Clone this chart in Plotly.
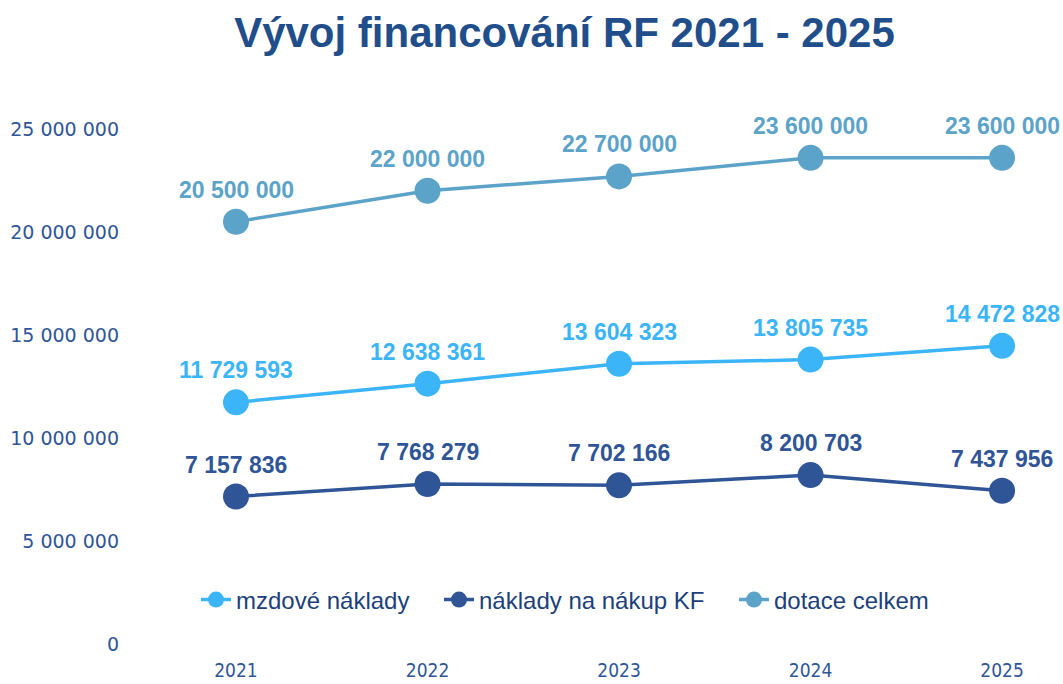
import plotly.graph_objects as go

years = ["2021", "2022", "2023", "2024", "2025"]
mzdove = [11729593, 12638361, 13604323, 13805735, 14472828]
naklady_kf = [7157836, 7768279, 7702166, 8200703, 7437956]
dotace = [20500000, 22000000, 22700000, 23600000, 23600000]

series = [
    ("mzdové náklady", mzdove, "#3BB5F7", "legend"),
    ("náklady na nákup KF", naklady_kf, "#2F5597", "legend2"),
    ("dotace celkem", dotace, "#5BA3C8", "legend3"),
]

def fmt(v):
    return f"{v:,}".replace(",", " ")

L, R, T, B = 130, 10, 129, 40
W, H = 1063, 684
pw = W - L - R
ph = H - T - B

def px_x(p):
    return (p - L) / pw

def px_y(p):
    return (H - B - p) / ph

xs = list(range(len(years)))
fig = go.Figure()
annotations = []
for name, vals, col, lg in series:
    fig.add_trace(go.Scatter(
        x=xs, y=vals, name=name, mode="lines+markers",
        line=dict(color=col, width=3.5),
        marker=dict(color=col, size=26),
        cliponaxis=False, legend=lg, showlegend=True,
    ))
    for x, v in zip(xs, vals):
        annotations.append(dict(
            x=x, y=v, xref="x", yref="y", text=fmt(v), showarrow=False,
            yshift=32, font=dict(family="Liberation Sans, Arial", size=23, color=col, weight="bold"),
        ))

legend_font = dict(family="Liberation Sans, Arial", size=24, color="#203F7A")
legend_common = dict(
    orientation="h", xanchor="left", yanchor="middle", yref="paper", xref="paper",
    font=legend_font, itemwidth=30, bgcolor="rgba(0,0,0,0)", borderwidth=0,
    y=px_y(600), visible=True,
)

fig.update_layout(
    width=W, height=H, showlegend=True,
    paper_bgcolor="white", plot_bgcolor="white",
    margin=dict(l=L, r=R, t=T, b=B, autoexpand=False),
    separators=", ",
    title=dict(
        text="<b>Vývoj financování RF 2021 - 2025</b>",
        x=0.531, xref="container", xanchor="center",
        y=1 - 32 / 684, yref="container", yanchor="middle",
        font=dict(family="Liberation Sans, Arial", size=42, color="#1F4E8B"),
    ),
    xaxis=dict(
        range=[-0.5535, 4.266], tickmode="array", tickvals=xs, ticktext=years,
        showgrid=False, zeroline=False, showline=False, ticks="", automargin=False,
        tickfont=dict(family="DejaVu Sans Condensed, Liberation Sans", size=19, color="#2F5597"),
        ticklabelstandoff=13,
    ),
    yaxis=dict(
        range=[0, 25000000], tickvals=[0, 5000000, 10000000, 15000000, 20000000, 25000000],
        tickformat=",d", showgrid=False, zeroline=False, showline=False, ticks="", automargin=False,
        tickfont=dict(family="DejaVu Sans", size=19, color="#2F5597"),
        ticklabelstandoff=10,
    ),
    legend=dict(legend_common, x=px_x(196)),
    legend2=dict(legend_common, x=px_x(439)),
    legend3=dict(legend_common, x=px_x(734)),
    annotations=annotations,
)

fig.write_html(
    "out.html",
    config={"displayModeBar": False},
    post_script="document.body.style.margin='0';document.body.style.overflow='hidden';",
)
